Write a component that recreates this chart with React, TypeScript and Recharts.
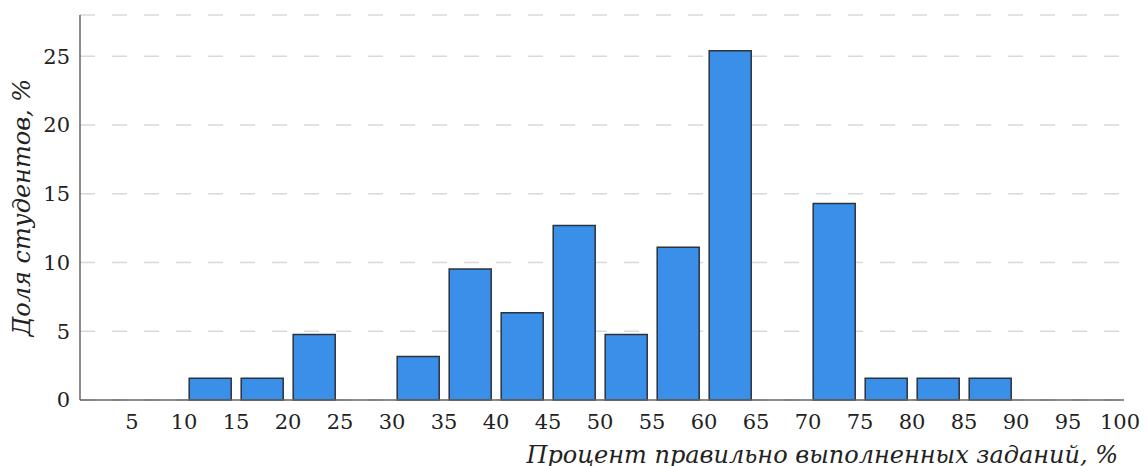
import { BarChart, Bar, XAxis, YAxis, CartesianGrid } from "recharts";

// bins of 5% (left edge), share of students in %
const binStarts = [0, 5, 10, 15, 20, 25, 30, 35, 40, 45, 50, 55, 60, 65, 70, 75, 80, 85, 90, 95];
const shares = [0, 0, 1.59, 1.59, 4.76, 0, 3.17, 9.52, 6.35, 12.7, 4.76, 11.11, 25.4, 0, 14.29, 1.59, 1.59, 1.59, 0, 0];
const xTicks = [5, 10, 15, 20, 25, 30, 35, 40, 45, 50, 55, 60, 65, 70, 75, 80, 85, 90, 95, 100];
const yTicks = [0, 5, 10, 15, 20, 25];

const xLabel = "Процент правильно выполненных заданий, %";
const yLabel = "Доля студентов, %";

const data = binStarts.map((s, i) => ({ mid: s + 2.5, share: shares[i] }));

const font = "DejaVu Serif";

export default function App() {
  return (
    <div style={{ position: "absolute", left: 0, top: 0, background: "#fff" }}>
      <BarChart
        width={1147}
        height={466}
        data={data}
        margin={{ top: 15, right: 23, bottom: 0, left: 0 }}
      >
        <CartesianGrid
          vertical={false}
          stroke="#d9d9d9"
          strokeWidth={1.5}
          strokeDasharray="15 17"
        />
        <XAxis
          dataKey="mid"
          type="number"
          domain={[0, 100]}
          ticks={xTicks}
          interval={0}
          padding={{ left: 0, right: 4 }}
          height={66}
          tickLine={false}
          tickSize={6}
          tickMargin={8}
          axisLine={{ stroke: "#666", strokeWidth: 1.5 }}
          tick={{ fontFamily: font, fontSize: 21, fill: "#222" }}
          label={{
            content: ({ viewBox }: any) => (
              <text
                x={viewBox.x + viewBox.width - 6}
                y={viewBox.y + 63}
                textAnchor="end"
                fontFamily={font}
                fontStyle="italic"
                fontSize={24}
                fill="#222"
              >
                {xLabel}
              </text>
            ),
          }}
        />
        <YAxis
          type="number"
          domain={[0, 28]}
          ticks={yTicks}
          interval={0}
          width={80}
          tickLine={false}
          tickSize={6}
          tickMargin={4}
          axisLine={{ stroke: "#666", strokeWidth: 1.5 }}
          tick={{ fontFamily: font, fontSize: 21, fill: "#222" }}
          label={{
            content: ({ viewBox }: any) => {
              const cx = 30;
              const cy = viewBox.y + viewBox.height / 2;
              return (
                <text
                  x={cx}
                  y={cy}
                  textAnchor="middle"
                  transform={`rotate(-90, ${cx}, ${cy})`}
                  fontFamily={font}
                  fontStyle="italic"
                  fontSize={24}
                  fill="#222"
                >
                  {yLabel}
                </text>
              );
            },
          }}
        />
        <Bar
          dataKey="share"
          fill="#3a8fe9"
          stroke="#2b333d"
          strokeWidth={1.5}
          isAnimationActive={false}
        />
      </BarChart>
    </div>
  );
}
